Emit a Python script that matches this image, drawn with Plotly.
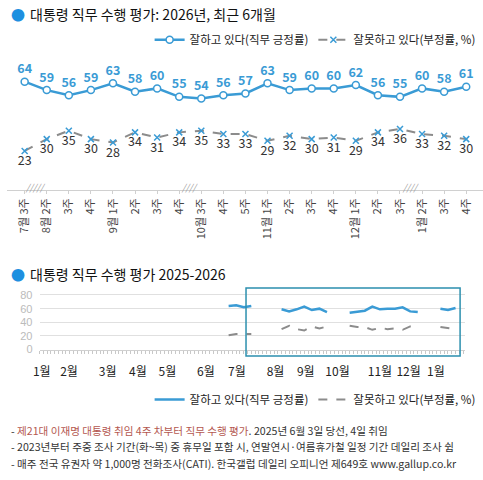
"""
Gallup Korea - presidential job approval: recent 6 months + 2025-2026 overview
Output: out.html
"""

import plotly.graph_objects as go

# ---------------------------------------------------------------------------
# Data
# ---------------------------------------------------------------------------

# recent 6 months (weekly)
week_labels = ['7월 3주', '8월 2주', '3주', '4주', '9월 1주', '2주', '3주', '4주',
               '10월 3주', '4주', '5주', '11월 1주', '2주', '3주', '4주',
               '12월 1주', '2주', '3주', '1월 2주', '3주', '4주']
recent_pos = [64, 59, 56, 59, 63, 58, 60, 55, 54, 56, 57, 63, 59, 60, 60, 62, 56, 55, 60, 58, 61]
recent_neg = [23, 30, 35, 30, 28, 34, 31, 34, 35, 33, 33, 29, 32, 30, 31, 29, 34, 36, 33, 32, 30]
# breaks in the weekly series (drawn as hatch marks after these positions)
break_after = [0, 7, 17]

# 2025-2026 overview, x = week index counted from 2025 1월 1주
all_weeks = list(range(25, 56))
all_pos = [64, 65, 62, 64, None, None, None,
           59, 56, 59, 63, 58, 60, 55, None, None,
           54, 56, 57, 63, 59, 60, 60, 62, 56, 55, None, None,
           60, 58, 61]
all_neg = [21, 23, 23, 23, None, None, None,
           30, 35, 30, 28, 34, 31, 34, None, None,
           35, 33, 33, 29, 32, 30, 31, 29, 34, 36, None, None,
           33, 32, 30]
month_labels = ['1월', '2월', '3월', '4월', '5월', '6월', '7월', '8월', '9월', '10월', '11월', '12월', '1월']
month_pos = [0.3, 3.9, 9.0, 13.0, 16.9, 22.0, 26.1, 31.2, 35.2, 39.4, 45.0, 48.8, 52.4]
recent_window = [27.3, 55.6]

footnotes = [
    "- <span style='color:#b4574f'>제21대 이재명 대통령 취임 4주 차부터 직무 수행 평가</span>. 2025년 6월 3일 당선, 4일 취임",
    "- 2023년부터 주중 조사 기간(화~목) 중 휴무일 포함 시, 연말연시·여름휴가철 일정 기간 데일리 조사 쉼",
    "- 매주 전국 유권자 약 1,000명 전화조사(CATI). 한국갤럽 데일리 오피니언 제649호 www.gallup.co.kr",
]

BLUE = '#3a9bd5'
GRAY = '#8c8c8c'
FONT = 'Noto Sans CJK KR'

# ---------------------------------------------------------------------------
# Figure
# ---------------------------------------------------------------------------

fig = go.Figure()
xs = list(range(len(week_labels)))

fig.add_trace(go.Scatter(
    x=xs, y=recent_pos, mode='lines+markers+text',
    name='잘하고 있다(직무 긍정률)',
    line=dict(color=BLUE, width=2.5),
    marker=dict(symbol='circle', size=7, color='white', line=dict(color=BLUE, width=1.5)),
    text=[str(v) for v in recent_pos], textposition='top center',
    textfont=dict(color=BLUE, size=12.5, family=FONT, weight='bold'),
    legend='legend', cliponaxis=False,
))
fig.add_trace(go.Scatter(
    x=xs, y=recent_neg, mode='lines+markers+text',
    name='잘못하고 있다(부정률, %)',
    line=dict(color=GRAY, width=2, dash='dash'),
    marker=dict(symbol='x-thin', size=6, line=dict(color=BLUE, width=1.5)),
    text=[str(v) for v in recent_neg], textposition='bottom center',
    textfont=dict(color='#333', size=12.5, family=FONT),
    legend='legend', cliponaxis=False,
))

fig.add_trace(go.Scatter(
    x=all_weeks, y=all_pos, mode='lines', name='잘하고 있다(직무 긍정률)',
    line=dict(color=BLUE, width=2.5), xaxis='x2', yaxis='y2', legend='legend2',
    connectgaps=False,
))
fig.add_trace(go.Scatter(
    x=all_weeks, y=all_neg, mode='lines', name='잘못하고 있다(부정률, %)',
    line=dict(color=GRAY, width=2, dash='dash'), xaxis='x2', yaxis='y2', legend='legend2',
    connectgaps=False,
))

# hatch marks for skipped weeks
for b in break_after:
    fig.add_annotation(x=b + 0.5, y=0, xref='x', yref='y', text='<i>/////</i>' if b == 0 else '<i>////</i>',
                       showarrow=False, font=dict(size=9, color='#999', family=FONT),
                       yshift=2)

# recent-window frame
fig.add_shape(type='rect', xref='x2', yref='paper',
              x0=recent_window[0], x1=recent_window[1], y0=0.25, y1=0.394,
              line=dict(color='#2b8fae', width=1.5))

# titles
for ypos, title in [(0.975, '대통령 직무 수행 평가: 2026년, 최근 6개월'),
                    (0.424, '대통령 직무 수행 평가 2025-2026')]:
    fig.add_annotation(x=0.005, y=ypos, xref='paper', yref='paper', text='●',
                       showarrow=False, xanchor='left', yanchor='middle',
                       font=dict(size=14, color='#1e8fe0', family=FONT))
    fig.add_annotation(x=0.045, y=ypos, xref='paper', yref='paper', text=title,
                       showarrow=False, xanchor='left', yanchor='middle',
                       font=dict(size=14, color='#111', family=FONT))

# footnotes
for i, line in enumerate(footnotes):
    fig.add_annotation(x=0.004, y=0.092 - i * 0.0345, xref='paper', yref='paper', text=line,
                       showarrow=False, xanchor='left', yanchor='middle',
                       font=dict(size=10.6, color='#333', family=FONT))

fig.update_layout(
    width=483, height=480,
    margin=dict(l=0, r=0, t=0, b=0),
    paper_bgcolor='white', plot_bgcolor='white',
    font=dict(family=FONT, color='#333'),
    xaxis=dict(domain=[0, 1], range=[-0.8, 20.76], tickmode='array', tickvals=xs,
               ticktext=week_labels, tickangle=-90, tickfont=dict(size=11, color='#444'),
               showgrid=False, zeroline=False, showline=True, linecolor='#d0d0d0',
               ticks='outside', ticklen=3, tickcolor='#d0d0d0'),
    yaxis=dict(domain=[0.602, 0.885], range=[0, 79], visible=False),
    xaxis2=dict(domain=[0.0683, 0.963], range=[0, 56.3], anchor='y2',
                tickmode='array', tickvals=month_pos, ticktext=month_labels, ticks='',
                tickfont=dict(size=12, color='#222', family=FONT), ticklabelstandoff=11,
                showgrid=False, zeroline=False, showline=True, linecolor='#d0d0d0',
                minor=dict(tickmode='linear', tick0=0, dtick=0.5, ticks='outside',
                           ticklen=3, tickcolor='#c8c8c8', showgrid=False)),
    yaxis2=dict(domain=[0.2635, 0.3875], range=[0, 85.7], anchor='x2',
                tickvals=[0, 20, 40, 60, 80],
                tickfont=dict(size=11, color='#bbb', family='Liberation Sans'),
                ticklabelstandoff=6,
                showgrid=True, gridcolor='#e0e0e0', zeroline=False, showline=False),
    legend=dict(orientation='h', x=0.995, xanchor='right', y=0.92, yanchor='middle',
                font=dict(size=11.5, color='#222'), bgcolor='rgba(0,0,0,0)'),
    legend2=dict(orientation='h', x=0.995, xanchor='right', y=0.158, yanchor='middle',
                 font=dict(size=11.5, color='#222'), bgcolor='rgba(0,0,0,0)'),
)

fig.write_html('out.html', config={'displayModeBar': False},
               post_script="document.body.style.margin='0';")
